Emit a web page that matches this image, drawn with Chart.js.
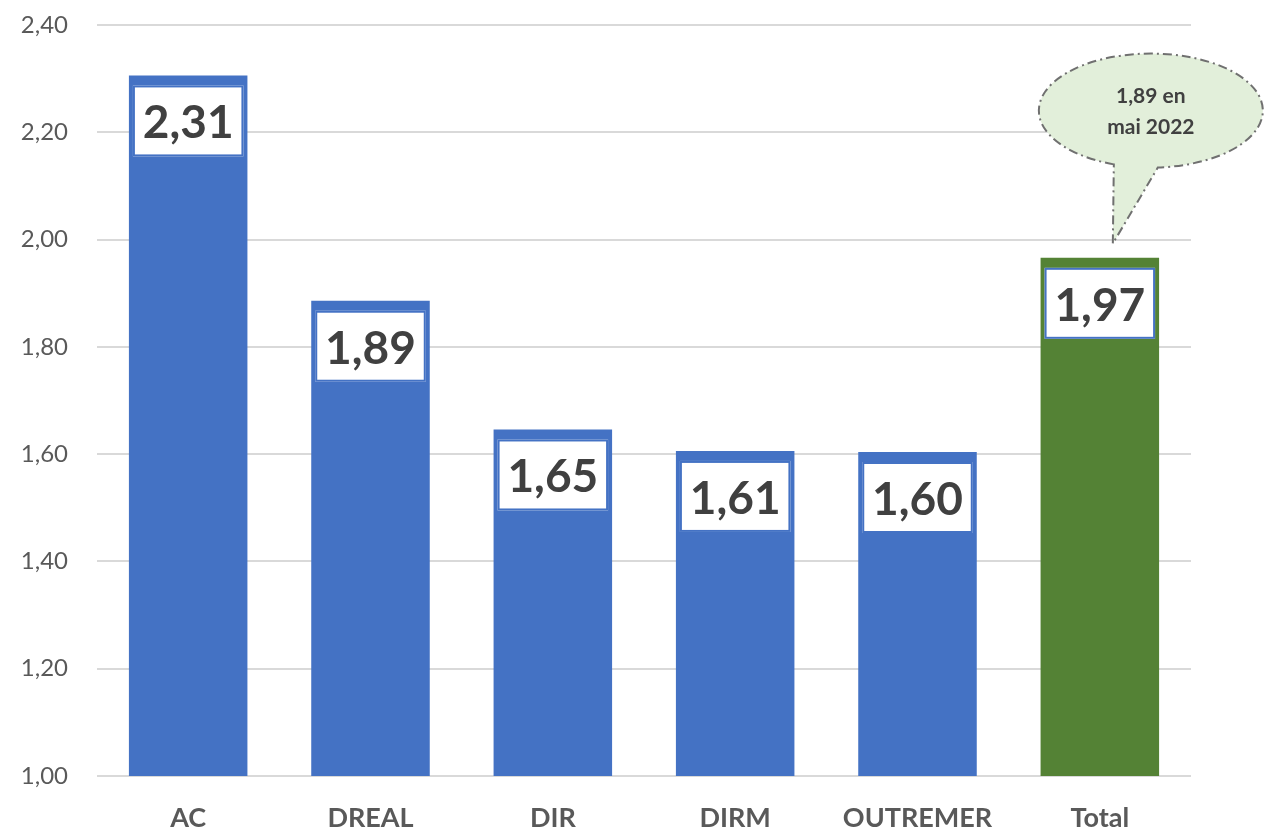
<!DOCTYPE html>
<html>
<head>
<meta charset="utf-8">
<script src="https://cdn.jsdelivr.net/npm/chart.js@4"></script>
<style>
  body { margin: 0; background: #fff; }
  #wrap { width: 1267px; height: 836px; }
</style>
</head>
<body>
<div id="wrap"><canvas id="myChart" width="1267" height="836"></canvas></div>
<script>
var services = ['AC', 'DREAL', 'DIR', 'DIRM', 'OUTREMER', 'Total']
var valeurs = [2.306, 1.886, 1.646, 1.606, 1.604, 1.966]
var couleurs = ['#4472C4', '#4472C4', '#4472C4', '#4472C4', '#4472C4', '#548235']
var yTicks = [1.0, 1.2, 1.4, 1.6, 1.8, 2.0, 2.2, 2.4]
var bulle = ['1,89 en', 'mai 2022']

function fr(v) {
    return v.toFixed(2).replace('.', ',')
}

// white boxes with the values, inside the top of each bar
var etiquettes = {
    id: 'etiquettes',
    afterDatasetsDraw(chart) {
        let ctx = chart.ctx
        let meta = chart.getDatasetMeta(0)
        ctx.save()
        meta.data.forEach((bar, i) => {
            let w = bar.width
            let x0 = bar.x - w / 2 + 4
            let y0 = bar.y + 10
            ctx.fillStyle = '#ffffff'
            ctx.fillRect(x0, y0, w - 8, 71)
            ctx.strokeStyle = '#4472C4'
            ctx.lineWidth = 2
            ctx.strokeRect(x0 + 1, y0 + 1, w - 10, 69)
            ctx.fillStyle = '#404040'
            ctx.font = 'bold 46px Lato'
            ctx.textAlign = 'center'
            ctx.textBaseline = 'middle'
            ctx.fillText(fr(valeurs[i]), bar.x, y0 + 38)
        })
        ctx.restore()
    }
}

// speech bubble above the Total bar
var bulleTotal = {
    id: 'bulleTotal',
    afterDraw(chart) {
        let ctx = chart.ctx
        let xs = chart.scales.x, ys = chart.scales.y
        let bx = xs.getPixelForValue(5)
        let y2 = ys.getPixelForValue(2.0)
        let cx = bx + 51, cy = y2 - 129, rx = 112, ry = 57
        let tipX = bx + 13, tipY = y2 + 4
        let tL = Math.acos((bx + 14 - cx) / rx)
        let tR = Math.acos((bx + 58 - cx) / rx)
        ctx.save()
        ctx.beginPath()
        ctx.ellipse(cx, cy, rx, ry, 0, tL, tR + 2 * Math.PI)
        ctx.lineTo(tipX, tipY)
        ctx.closePath()
        ctx.fillStyle = '#E2EFDA'
        ctx.fill()
        ctx.setLineDash([9, 4, 2, 4])
        ctx.strokeStyle = '#707070'
        ctx.lineWidth = 2
        ctx.stroke()
        ctx.setLineDash([])
        ctx.fillStyle = '#404040'
        ctx.font = 'bold 21px Lato'
        ctx.textAlign = 'center'
        ctx.textBaseline = 'middle'
        ctx.fillText(bulle[0], cx, cy - 14)
        ctx.fillText(bulle[1], cx, cy + 17)
        ctx.restore()
    }
}

let ctx = document.getElementById('myChart').getContext('2d')
let myChart = new Chart(ctx, {
    type: 'bar',
    data: {
        labels: services,
        datasets: [{
            data: valeurs,
            backgroundColor: couleurs,
            borderWidth: 0,
            categoryPercentage: 0.65,
            barPercentage: 1
        }]
    },
    options: {
        responsive: false,
        animation: false,
        layout: { padding: { top: 25, right: 76, left: 0, bottom: 0 } },
        plugins: {
            legend: { display: false },
            tooltip: { enabled: false }
        },
        scales: {
            x: {
                grid: { display: false, drawTicks: false },
                border: { display: false },
                ticks: {
                    color: '#595959',
                    font: { family: 'Lato', size: 27, weight: 'bold' },
                    padding: 26
                },
                afterFit(axis) { axis.height = 60 }
            },
            y: {
                min: 1.0,
                max: 2.4,
                afterBuildTicks(axis) {
                    axis.ticks = yTicks.map(v => ({ value: v }))
                },
                grid: { color: '#d9d9d9', lineWidth: 2, drawTicks: false },
                border: { display: false },
                ticks: {
                    color: '#595959',
                    font: { family: 'Lato', size: 24 },
                    padding: 29,
                    callback: v => fr(v)
                },
                afterFit(axis) {
                    axis.width = 97
                    axis.paddingTop = 0
                    axis.paddingBottom = 0
                }
            }
        }
    },
    plugins: [etiquettes, bulleTotal]
})
</script>
</body>
</html>
